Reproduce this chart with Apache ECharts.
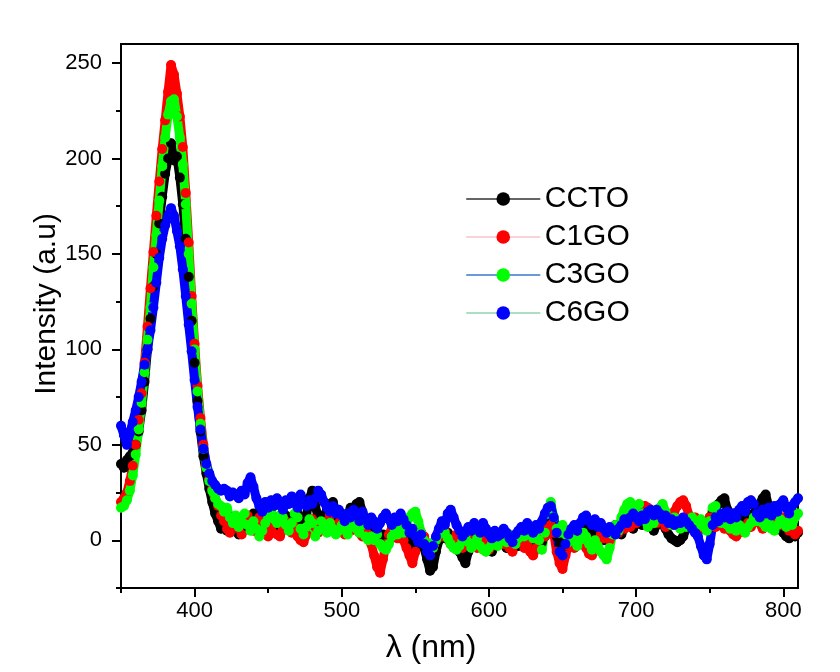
<!DOCTYPE html>
<html>
<head>
<meta charset="utf-8">
<script src="https://cdn.jsdelivr.net/npm/echarts@6/dist/echarts.min.js"></script>
<style>
html,body{margin:0;padding:0;background:#ffffff;}
#chart{width:840px;height:672px;}
</style>
</head>
<body>
<div id="chart"></div>
<script>
// Wavelength (nm)
const wavelength = [
350,352,354,356,358,360,362,364,366,368,
370,372,374,376,378,380,382,384,386,388,
390,392,394,396,398,400,402,404,406,408,
410,412,414,416,418,420,
422,424,426,428,430,432,434,436,438,440,
442,444,446,448,450,452,454,456,458,460,
462,464,466,468,470,472,474,476,478,480,
482,484,486,488,490,492,494,496,498,500,
502,504,506,508,510,512,514,516,518,520,
522,524,526,528,530,532,534,536,538,540,
542,544,546,548,550,552,554,556,558,560,
562,564,566,568,570,572,574,576,578,580,
582,584,586,588,590,592,594,596,598,600,
602,604,606,608,610,612,614,616,618,620,
622,624,626,628,630,632,634,636,638,640,
642,644,646,648,650,652,654,656,658,660,
662,664,666,668,670,672,674,676,678,680,
682,684,686,688,690,692,694,696,698,700,
702,704,706,708,710,712,714,716,718,720,
722,724,726,728,730,732,734,736,738,740,
742,744,746,748,750,752,754,756,758,760,
762,764,766,768,770,772,774,776,778,780,
782,784,786,788,790,792,794,796,798,800,
802,804,806,808,810
];

const ccto = [
40,38,42,44,46,50,57,68,83,100,
116,133,150,166,180,192,200,208,199,201,
190,176,158,138,115,93,73,57,44,35,
27,20,14,10,6,7,
5,8,12,6,3,8,11,7,10,14,
9,6,10,13,8,5,9,12,7,10,
13,9,6,10,14,11,8,13,22,26,
18,12,9,13,16,19,20,15,11,14,
10,13,17,14,19,20,15,10,7,5,
2,4,1,3,-1,2,5,8,5,3,
6,2,-2,0,-3,-1,2,-4,-10,-16,
-14,-6,0,3,1,4,2,-1,-4,-6,
-9,-12,-6,-1,2,-2,0,-3,-5,-2,
-6,-3,0,3,-2,-4,-1,2,-1,-3,
0,3,1,-2,0,3,1,-1,2,5,
9,6,2,-2,-4,0,3,1,5,3,
6,8,12,9,5,3,6,2,0,3,
6,4,8,5,3,7,10,8,6,9,
11,8,12,10,7,5,8,11,9,6,
3,1,0,-1,0,2,6,9,7,11,
8,10,6,9,12,14,17,19,21,22,
16,12,14,10,8,11,9,13,10,14,
16,19,22,24,18,14,11,8,6,4,
2,1,3,2,4
];

const c1go = [
20,22,25,31,39,50,63,77,93,112,
132,151,170,188,205,220,235,249,244,234,
222,206,182,156,128,103,81,64,50,39,
32,27,22,18,13,10,
6,4,8,11,6,3,9,13,8,5,
9,12,7,4,2,6,10,3,2,6,
10,8,4,7,2,0,-1,3,8,11,
7,4,8,6,10,13,8,5,9,6,
3,7,5,9,6,4,2,5,3,-2,
-8,-14,-17,-10,-2,3,6,4,1,3,
0,-4,-8,-12,-6,0,4,2,-3,-6,
-4,0,4,2,5,1,-2,0,3,-1,
-4,-2,1,-2,0,-4,-1,2,-2,-5,
-3,0,3,1,-2,0,-4,-6,-2,1,
-1,-4,-2,-6,-8,-4,0,4,2,6,
8,4,-6,-12,-15,-8,-3,0,-4,-2,
2,0,-4,-7,-8,-4,0,3,1,4,
0,3,6,4,8,6,10,7,11,9,
13,16,18,17,14,12,9,13,10,7,
12,8,15,18,20,21,18,13,10,12,
8,10,6,9,12,10,7,11,8,6,
9,5,3,2,4,7,5,9,7,10,
13,9,6,11,8,10,14,11,8,12,
9,5,6,3,5
];

const c3go = [
17,18,21,26,34,45,58,72,88,105,
122,143,160,178,196,211,223,230,231,222,
211,197,176,150,124,100,78,61,48,38,
31,26,22,19,18,15,
17,12,9,13,7,10,14,8,5,10,
6,2,5,9,12,15,11,9,13,12,
8,5,9,14,12,6,3,7,11,9,
2,5,10,7,4,9,6,3,5,8,
6,3,7,10,6,4,8,2,0,2,
0,3,-2,-4,-5,-2,2,5,3,6,
4,9,12,14,15,10,4,0,-3,-2,
-4,0,3,6,4,1,-2,-4,-5,-3,
0,2,-1,-4,-2,1,-3,-5,-6,-4,
-2,1,-3,0,2,-1,3,0,-2,1,
4,2,5,3,1,4,0,-5,4,14,
20,12,6,4,8,3,-1,2,0,-3,
0,4,2,-2,-5,0,-3,-6,-8,-10,
-4,3,8,5,12,16,19,20,15,18,
19,14,10,7,11,9,14,17,19,15,
11,8,12,9,6,10,7,9,12,10,
8,11,7,5,10,17,18,13,9,11,
8,6,9,5,8,6,4,7,9,12,
10,13,9,7,10,6,5,8,11,9,
7,10,8,12,14
];

const c6go = [
60,55,50,56,62,68,75,83,92,100,
110,122,135,148,158,165,170,174,170,162,
154,142,128,113,99,84,70,58,48,40,
35,31,29,27,26,27,
26,23,25,24,22,26,24,30,33,28,
22,18,15,20,17,21,18,22,19,16,
21,19,23,20,17,24,20,18,21,19,
22,26,24,20,17,15,18,14,16,13,
10,14,12,16,13,10,15,11,8,12,
10,6,9,12,14,11,8,12,10,14,
11,8,4,6,2,-1,3,-2,-6,-8,
-3,2,6,10,8,14,16,12,8,5,
2,4,7,5,9,6,4,9,6,3,
1,5,2,3,6,4,1,-1,3,5,
7,5,9,6,4,8,6,10,14,17,
18,12,4,-6,-8,-2,3,6,8,5,
9,12,13,10,8,11,7,9,6,4,
7,5,3,6,8,11,9,12,14,12,
10,13,11,15,16,13,16,14,11,13,
9,11,8,10,9,12,10,8,6,4,
2,-3,-8,-10,-2,8,12,10,14,12,
15,11,14,12,16,18,15,20,21,19,
14,12,16,14,17,13,18,15,19,21,
17,14,18,20,22
];

const seriesNames = ['CCTO', 'C1GO', 'C3GO', 'C6GO'];
const seriesValues = [ccto, c1go, c3go, c6go];
const markerColors = ['#000000', '#ff0000', '#00ff00', '#0000ff'];
const legendLineColors = ['#333333', '#f7c6c6', '#3a78d0', '#8fd3b2'];

const xMajorTicks = [400, 500, 600, 700, 800];
const xMinorTicks = [350, 450, 550, 650, 750];
const yMajorTicks = [0, 50, 100, 150, 200, 250];
const yMinorTicks = [-25, 25, 75, 125, 175, 225];

const FONT = "'Liberation Sans', Arial, sans-serif";

const chart = echarts.init(document.getElementById('chart'), null, {renderer: 'canvas'});

const series = seriesNames.map((name, k) => ({
  name: name,
  type: 'line',
  xAxisIndex: 0,
  yAxisIndex: 0,
  data: wavelength.map((w, i) => [w, seriesValues[k][i]]),
  symbol: 'circle',
  symbolSize: 10,
  showSymbol: true,
  showAllSymbol: true,
  itemStyle: {color: markerColors[k], borderWidth: 0},
  lineStyle: {color: markerColors[k], width: 9, cap: 'round', join: 'round'},
  emphasis: {disabled: true},
  animation: false,
  silent: true
}));

const axisLineStyle = {color: '#000', width: 2};

chart.setOption({
  backgroundColor: '#ffffff',
  animation: false,
  grid: {
    left: 121, right: 42, top: 44, bottom: 84,
    show: true, borderColor: '#000', borderWidth: 2, backgroundColor: 'transparent',
    containLabel: false
  },
  xAxis: [
    {
      type: 'value', min: 350, max: 810, position: 'bottom',
      axisLine: {show: true, onZero: false, lineStyle: axisLineStyle},
      axisTick: {show: true, inside: false, length: 9, customValues: xMajorTicks, lineStyle: {color: '#000', width: 2}},
      axisLabel: {show: true, customValues: xMajorTicks, fontSize: 22, color: '#000', fontFamily: FONT, margin: 12},
      splitLine: {show: false}
    },
    {
      type: 'value', min: 350, max: 810, position: 'bottom',
      axisLine: {show: false, onZero: false},
      axisTick: {show: true, inside: false, length: 5, customValues: xMinorTicks, lineStyle: {color: '#000', width: 2}},
      axisLabel: {show: false},
      splitLine: {show: false}
    }
  ],
  yAxis: [
    {
      type: 'value', min: -25, max: 260, position: 'left',
      axisLine: {show: true, onZero: false, lineStyle: axisLineStyle},
      axisTick: {show: true, inside: false, length: 9, customValues: yMajorTicks, lineStyle: {color: '#000', width: 2}},
      axisLabel: {show: true, customValues: yMajorTicks, fontSize: 22, color: '#000', fontFamily: FONT, margin: 19},
      splitLine: {show: false}
    },
    {
      type: 'value', min: -25, max: 260, position: 'left',
      axisLine: {show: false, onZero: false},
      axisTick: {show: true, inside: false, length: 5, customValues: yMinorTicks, lineStyle: {color: '#000', width: 2}},
      axisLabel: {show: false},
      splitLine: {show: false}
    }
  ],
  legend: {
    show: true,
    orient: 'vertical',
    left: 461,
    top: 179,
    itemWidth: 73,
    itemHeight: 17,
    itemGap: 8,
    data: seriesNames.map((n, k) => ({
      name: n,
      itemStyle: {color: markerColors[k]},
      lineStyle: {color: legendLineColors[k], width: 1.5}
    })),
    textStyle: {fontSize: 30, color: '#000', fontFamily: FONT, lineHeight: 30},
    selectedMode: false
  },
  graphic: [
    {
      type: 'text', x: 47, y: 304, rotation: Math.PI / 2,
      style: {text: 'Intensity (a.u)', fontSize: 30, fill: '#000', fontFamily: FONT, align: 'center', verticalAlign: 'middle'}
    },
    {
      type: 'text', x: 431, y: 648,
      style: {text: 'λ (nm)', fontSize: 32, fill: '#000', fontFamily: FONT, align: 'center', verticalAlign: 'middle'}
    }
  ],
  series: series
});
</script>
</body>
</html>
